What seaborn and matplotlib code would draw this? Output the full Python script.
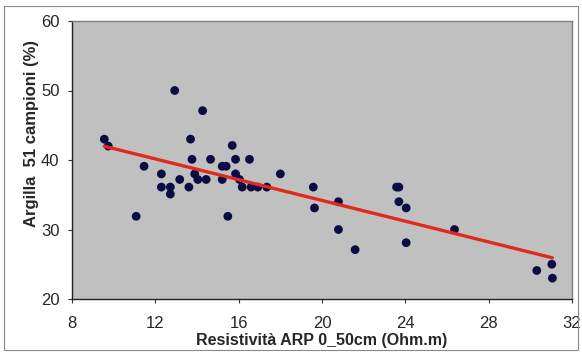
import matplotlib
matplotlib.use("Agg")
import matplotlib.pyplot as plt
import seaborn as sns
import numpy as np
import pandas as pd
from matplotlib.patches import Rectangle

resistivita = [9.55, 9.74, 11.46, 11.08, 12.93, 12.29, 12.29, 12.72, 12.72, 13.17,
               13.61, 13.69, 13.76, 13.89, 14.04, 14.27, 14.44, 14.65, 15.21, 15.40,
               15.21, 15.48, 15.69, 15.85, 15.85, 16.04, 16.17, 16.52, 16.60, 16.92,
               17.35, 18.00, 19.58, 19.64, 20.79, 20.79, 21.59, 23.58, 23.69, 23.69,
               24.04, 24.04, 26.36, 30.31, 31.03, 31.06]
argilla = [43.0, 42.0, 39.1, 31.9, 50.0, 38.0, 36.1, 36.1, 35.1, 37.2,
           36.1, 43.0, 40.1, 38.0, 37.2, 47.1, 37.2, 40.1, 39.1, 39.1,
           37.2, 31.9, 42.1, 40.1, 38.0, 37.2, 36.1, 40.1, 36.1, 36.1,
           36.1, 38.0, 36.1, 33.1, 34.0, 30.0, 27.1, 36.1, 36.1, 34.0,
           33.1, 28.1, 30.0, 24.1, 25.0, 23.0]
x_ticks = [8, 12, 16, 20, 24, 28, 32]
y_ticks = [20, 30, 40, 50, 60]

df = pd.DataFrame({"x": resistivita, "y": argilla})

sns.set_theme(style="white")
plt.rcParams['font.family'] = ['Liberation Sans', 'DejaVu Sans']

fig = plt.figure(figsize=(5.82, 3.56), dpi=100)
fig.patch.set_facecolor("white")
ax = fig.add_axes([72/582, 1-299/356, 500/582, 278/356])
ax.set_facecolor("#C0C0C0")

sns.scatterplot(data=df, x="x", y="y", ax=ax, color="#0B0B45", s=40,
                edgecolor="none", zorder=3)
sns.regplot(data=df, x="x", y="y", ax=ax, scatter=False, ci=None, truncate=True,
            line_kws=dict(color="#E02A20", lw=2.4, zorder=4))

ax.set_xlim(8, 32)
ax.set_ylim(20, 60)
ax.set_xticks(x_ticks)
ax.set_yticks(y_ticks)
ax.tick_params(axis="both", which="major", direction="out", length=3, width=0.8,
               color="#333333", labelsize=12, bottom=True, left=True)
ax.tick_params(axis="x", pad=9)
ax.tick_params(axis="y", pad=6)
for side in ["left", "bottom"]:
    ax.spines[side].set_color("#222222")
    ax.spines[side].set_linewidth(1.0)
for side in ["right", "top"]:
    ax.spines[side].set_color("#808080")
    ax.spines[side].set_linewidth(1.0)

ax.set_xlabel("Resistività ARP 0_50cm (Ohm.m)", fontsize=11.5, fontweight="bold")
ax.set_ylabel("Argilla  51 campioni (%)", fontsize=12, fontweight="bold")
ax.xaxis.set_label_coords(0.5, -0.122)
ax.yaxis.set_label_coords(-0.066, 0.597)

fig.patches.append(Rectangle((4/582, 6/356), 574/582, 344/356, transform=fig.transFigure,
                             fill=False, edgecolor="#888888", lw=0.8))

fig.savefig("out.png", dpi=100)
